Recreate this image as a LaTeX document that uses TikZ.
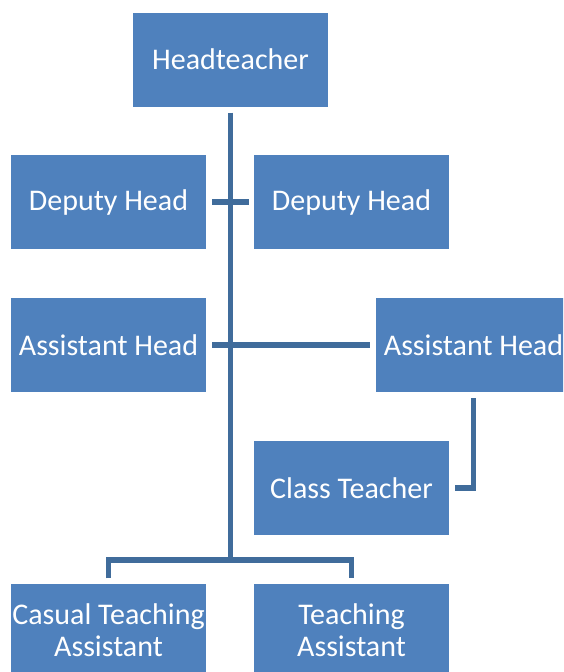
\documentclass[tikz,border=0pt]{standalone}
\usepackage{fontspec}
\setmainfont{Carlito}
\definecolor{boxblue}{RGB}{79,129,189}
\definecolor{lineblue}{RGB}{64,108,155}
\begin{document}
\begin{tikzpicture}[x=1pt,y=1pt,
  post/.style={fill=boxblue,text=white,minimum width=195pt,minimum height=94pt,inner sep=0pt,align=center,font=\fontsize{30}{32}\selectfont},
  link/.style={draw=lineblue,line width=5.5pt}]
\clip (0,0) rectangle (563,-672);
\node[post] (head) at (230.5,-59.5) {Headteacher};
\node[post] (dep1) at (108.5,-202) {Deputy Head};
\node[post] (dep2) at (351.5,-202) {Deputy Head};
\node[post] (ast1) at (108.5,-345) {Assistant Head};
\node[post] (ast2) at (473.5,-345) {Assistant Head};
\node[post] (cls) at (351.5,-488) {Class Teacher};
\node[post] (cta) at (108.5,-630.5) {Casual Teaching\\Assistant};
\node[post] (ta) at (351.5,-630.5) {Teaching\\Assistant};
\coordinate (bar) at (230.5,-560);
\draw[link] ([yshift=-6]head.south) -- (bar);
\draw[link] ([xshift=6]dep1.east) -- ([xshift=-5]dep2.west);
\draw[link] ([xshift=6]ast1.east) -- ([xshift=-6]ast2.west);
\draw[link] ([yshift=-6]ast2.south) |- ([xshift=6]cls.east);
\draw[link] ([yshift=5]cta.north) |- (bar) -| ([yshift=5]ta.north);
\end{tikzpicture}
\end{document}
